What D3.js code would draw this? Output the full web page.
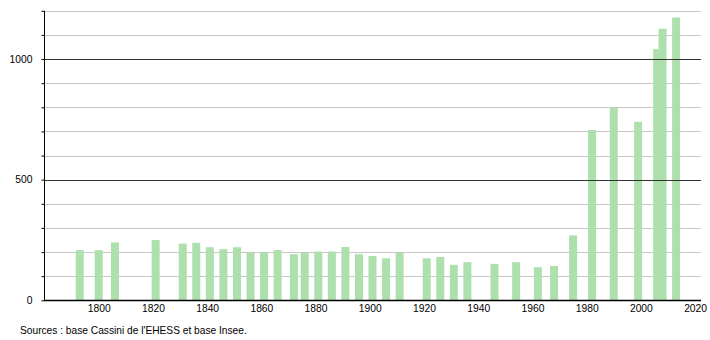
<!DOCTYPE html>
<html>
<head>
<meta charset="utf-8">
<script src="https://cdn.jsdelivr.net/npm/d3@7"></script>
<style>
  html, body { margin: 0; padding: 0; background: #fff; }
  svg { display: block; font-family: "Liberation Sans", Arial, sans-serif; }
</style>
</head>
<body>
<svg id="chart" width="710" height="340"></svg>
<script>
const years = [1793, 1800, 1806, 1821, 1831, 1836, 1841, 1846, 1851, 1856, 1861, 1866, 1872, 1876, 1881, 1886, 1891, 1896, 1901, 1906, 1911, 1921, 1926, 1931, 1936, 1946, 1954, 1962, 1968, 1975, 1982, 1990, 1999, 2006, 2008, 2013];
const population = [208, 208, 240, 250, 235, 238, 220, 212, 220, 198, 198, 208, 191, 198, 202, 202, 221, 191, 184, 174, 198, 174, 180, 147, 158, 151, 158, 137, 142, 269, 706, 799, 740, 1041, 1126, 1172];
const xTicks = [1800, 1820, 1840, 1860, 1880, 1900, 1920, 1940, 1960, 1980, 2000, 2020];
const yLabelTicks = [0, 500, 1000];
const yGridMinor = [100, 200, 300, 400, 600, 700, 800, 900, 1100, 1200];
const yGridMajor = [500, 1000];
const sourceText = "Sources : base Cassini de l'EHESS et base Insee.";

const svg = d3.select("#chart");
const x = d3.scaleLinear().domain([1780, 2022]).range([44.5, 700.5]);
const y = d3.scaleLinear().domain([0, 1200]).range([300.3, 10.8]);
const barW = 8;

// minor gridlines
svg.append("g").selectAll("line").data(yGridMinor).join("line")
  .attr("x1", 44).attr("x2", 701)
  .attr("y1", d => Math.round(y(d)) + 0.5).attr("y2", d => Math.round(y(d)) + 0.5)
  .attr("stroke", "#c8c8c8").attr("stroke-width", 1);

// bars
svg.append("g").selectAll("rect").data(years).join("rect")
  .attr("x", (d) => x(d) - barW / 2)
  .attr("y", (d, i) => y(population[i]))
  .attr("width", barW)
  .attr("height", (d, i) => y(0) - y(population[i]))
  .attr("fill", "#ade0ad");

// major gridlines
svg.append("g").selectAll("line").data(yGridMajor).join("line")
  .attr("x1", 44).attr("x2", 701)
  .attr("y1", d => Math.round(y(d)) + 0.5).attr("y2", d => Math.round(y(d)) + 0.5)
  .attr("stroke", "#333").attr("stroke-width", 1);

// y axis
const yAxis = d3.axisLeft(y).tickValues(d3.range(0, 1201, 100)).tickSize(3)
  .tickFormat(d => yLabelTicks.includes(d) ? d : "");
const gy = svg.append("g").attr("transform", "translate(44.5,0)").call(yAxis);
gy.select(".domain").attr("stroke", "#000").attr("d", `M0,${y(1200)}V${y(0)}`);
gy.selectAll(".tick line").attr("stroke", "#000");
gy.selectAll(".tick text").attr("font-size", "10.3px").attr("fill", "#000")
  .attr("x", -12).attr("font-family", "'Liberation Sans', Arial, sans-serif");

// x axis
const xAxis = d3.axisBottom(x).tickValues(xTicks).tickSize(0).tickFormat(d3.format("d"));
const gx = svg.append("g").attr("transform", "translate(0,300.5)").call(xAxis);
gx.select(".domain").attr("stroke", "#000").attr("stroke-width", 1.3).attr("d", `M44,0H701`);
gx.selectAll(".tick text").attr("font-size", "10.3px").attr("fill", "#000").attr("dy", "0.71em").attr("y", 4)
  .attr("font-family", "'Liberation Sans', Arial, sans-serif");

// source
svg.append("text").attr("x", 20).attr("y", 333.5).attr("font-size", "10.2px").attr("fill", "#000")
  .text(sourceText);
</script>
</body>
</html>
